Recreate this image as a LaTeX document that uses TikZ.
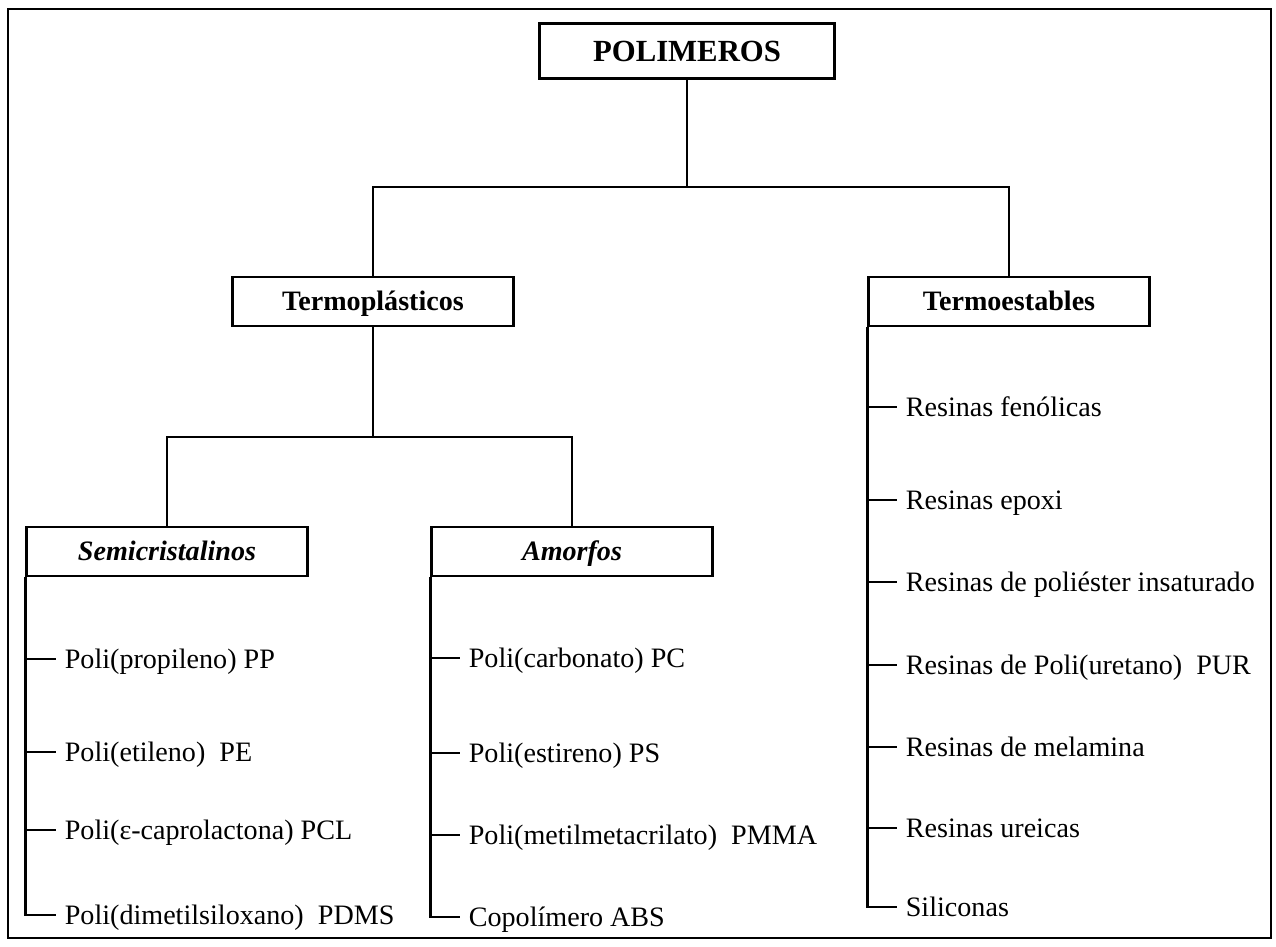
\documentclass[tikz,border=0pt]{standalone}
\usepackage{fontspec}
\setmainfont{Liberation Serif}
\usetikzlibrary{positioning}
\tikzset{
    caja/.style={rectangle, draw=black, line width=1.5pt, minimum width=5.62cm, minimum height=0.98cm, inner sep=0pt, text height=0.37cm, text depth=0cm, font=\fontsize{16}{19}\selectfont\bfseries},
    cajait/.style={caja, font=\fontsize{16}{19}\selectfont\bfseries\itshape},
    item/.style={anchor=west, inner xsep=0.17cm, inner ysep=0pt, text height=0.37cm, text depth=0cm, font=\fontsize{16}{19}\selectfont},
    linea/.style={line width=1.5pt, black}
}

\begin{document}
\begin{tikzpicture}[x=0.02cm, y=-0.02cm]

    \useasboundingbox (0,0) rectangle (1276,947);
    % marco exterior
    \draw[linea] (8,9) rectangle (1271,938);

    % 1. RAIZ
    \node[caja, minimum width=5.9cm, minimum height=1.1cm, text height=0.4cm, font=\fontsize{17.5}{20}\selectfont\bfseries] (pol) at (687,51) {POLIMEROS};

    % 2. TERMOPLASTICOS / TERMOESTABLES
    \node[caja] (tp) at (373,301.5) {Termoplásticos};
    \node[caja] (te) at (1009,301.5) {Termoestables};
    \coordinate (j1) at (687,187);
    \draw[linea] (pol) -- (j1);
    \draw[linea] (tp) |- (j1) -| (te);

    % 3. SEMICRISTALINOS / AMORFOS
    \node[cajait] (sc) at (167,551.5) {Semicristalinos};
    \node[cajait] (am) at (572,551.5) {Amorfos};
    \coordinate (j2) at (373,437);
    \draw[linea] (tp) -- (j2);
    \draw[linea] (sc) |- (j2) -| (am);

    % 4. LISTAS (una rama vertical con marcas para cada tipo)
    \foreach \nombre/\py/\texto in {pp/659/Poli(propileno) PP, pe/752/Poli(etileno)\ \ PE,
        pcl/830/Poli(ε-caprolactona) PCL, pdms/915/Poli(dimetilsiloxano)\ \ PDMS}{
        \node[item] (\nombre) at (56,\py) {\texto};
        \draw[linea] (sc.south west |- \nombre.west) -- (\nombre.west);
    }
    \draw[linea] (sc.south west) |- (pdms.west);

    \foreach \nombre/\py/\texto in {pc/658/Poli(carbonato) PC, ps/753/Poli(estireno) PS,
        pmma/835/Poli(metilmetacrilato)\ \ PMMA, abs/917/Copolímero ABS}{
        \node[item] (\nombre) at (460,\py) {\texto};
        \draw[linea] (am.south west |- \nombre.west) -- (\nombre.west);
    }
    \draw[linea] (am.south west) |- (abs.west);

    \foreach \nombre/\py/\texto in {fen/407/Resinas fenólicas, epo/500/Resinas epoxi,
        pol2/582/Resinas de poliéster insaturado, pur/665/Resinas de Poli(uretano)\ \ PUR,
        mel/747/Resinas de melamina, ure/828/Resinas ureicas, sil/907/Siliconas}{
        \node[item] (\nombre) at (897,\py) {\texto};
        \draw[linea] (te.south west |- \nombre.west) -- (\nombre.west);
    }
    \draw[linea] (te.south west) |- (sil.west);

\end{tikzpicture}
\end{document}
